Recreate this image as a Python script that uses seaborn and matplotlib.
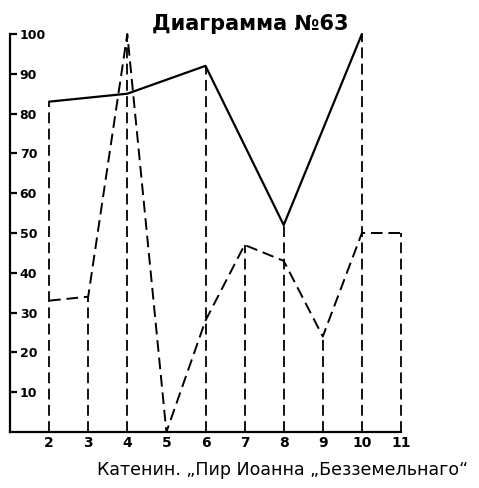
import matplotlib
matplotlib.use("Agg")
import matplotlib.pyplot as plt
import numpy as np
import pandas as pd
import seaborn as sns

# Diagram No. 63 — two verse-position profiles for Katenin's poem
solid_x = [2, 4, 6, 8, 10]
solid_y = [83, 85, 92, 52, 100]

dashed_x = [2, 3, 4, 5, 6, 7, 8, 9, 10, 11]
dashed_y = [33, 34, 100, 0, 28, 47, 43, 24, 50, 50]

x_ticks = [2, 3, 4, 5, 6, 7, 8, 9, 10, 11]
x_tick_labels = ["2", "3", "4", "5", "6", "7", "8", "9", "10", "11"]
y_ticks = [10, 20, 30, 40, 50, 60, 70, 80, 90, 100]
y_tick_labels = ["10", "20", "30", "40", "50", "60", "70", "80", "90", "100"]

title_text = "Диаграмма №63"
xlabel_text = "Катенин. „Пир Иоанна „Безземельнаго“"

sns.set_style("white")
plt.rcParams["font.family"] = ["DejaVu Sans"]
plt.rcParams["text.color"] = "black"
plt.rcParams["xtick.color"] = "black"
plt.rcParams["ytick.color"] = "black"

fig = plt.figure(figsize=(4.79, 4.88), dpi=100)
ax = fig.add_axes([10 / 479, (488 - 432) / 488, (401 - 10) / 479, (432 - 34) / 488])

solid_df = pd.DataFrame({"pos": solid_x, "val": solid_y})
dashed_df = pd.DataFrame({"pos": dashed_x, "val": dashed_y})

dash = (0, (6, 3))

# vertical guide lines from the highest value at each position down to the axis
tops = []
for p in x_ticks:
    vals = [v for x, v in zip(solid_x, solid_y) if x == p]
    vals += [v for x, v in zip(dashed_x, dashed_y) if x == p]
    tops.append(max(vals) if vals else 0)
ax.vlines(x_ticks, 0, tops, colors="black", linestyles=dash, linewidth=1.3,
          clip_on=False)

sns.lineplot(data=solid_df, x="pos", y="val", ax=ax, color="black",
             linewidth=1.6, sort=False, clip_on=False)
sns.lineplot(data=dashed_df, x="pos", y="val", ax=ax, color="black",
             linewidth=1.4, linestyle=dash, sort=False, clip_on=False)

ax.set_xlim(1, 11)
ax.set_ylim(0, 100)

for side in ("top", "right"):
    ax.spines[side].set_visible(False)
for side in ("left", "bottom"):
    ax.spines[side].set_linewidth(1.6)
    ax.spines[side].set_color("black")

ax.set_xticks(x_ticks)
ax.set_xticklabels(x_tick_labels, fontsize=10, fontweight="bold", color="black")
ax.tick_params(axis="x", length=0, pad=3)

ax.set_yticks(y_ticks)
ax.set_yticklabels(y_tick_labels, fontsize=9, fontweight="bold", color="black")
ax.tick_params(axis="y", left=True, direction="in", length=5, width=1.6,
               pad=-7, color="black")
for lab in ax.get_yticklabels():
    lab.set_horizontalalignment("left")

ax.set_xlabel("")
ax.set_ylabel("")
ax.grid(False)

fig.text(250 / 479, (488 - 24) / 488, title_text, ha="center", va="center",
         fontsize=15, fontweight="bold", color="black")
fig.text(283 / 479, (488 - 470) / 488, xlabel_text, ha="center", va="center",
         fontsize=12.5, color="black")

fig.savefig("out.png", dpi=100)
